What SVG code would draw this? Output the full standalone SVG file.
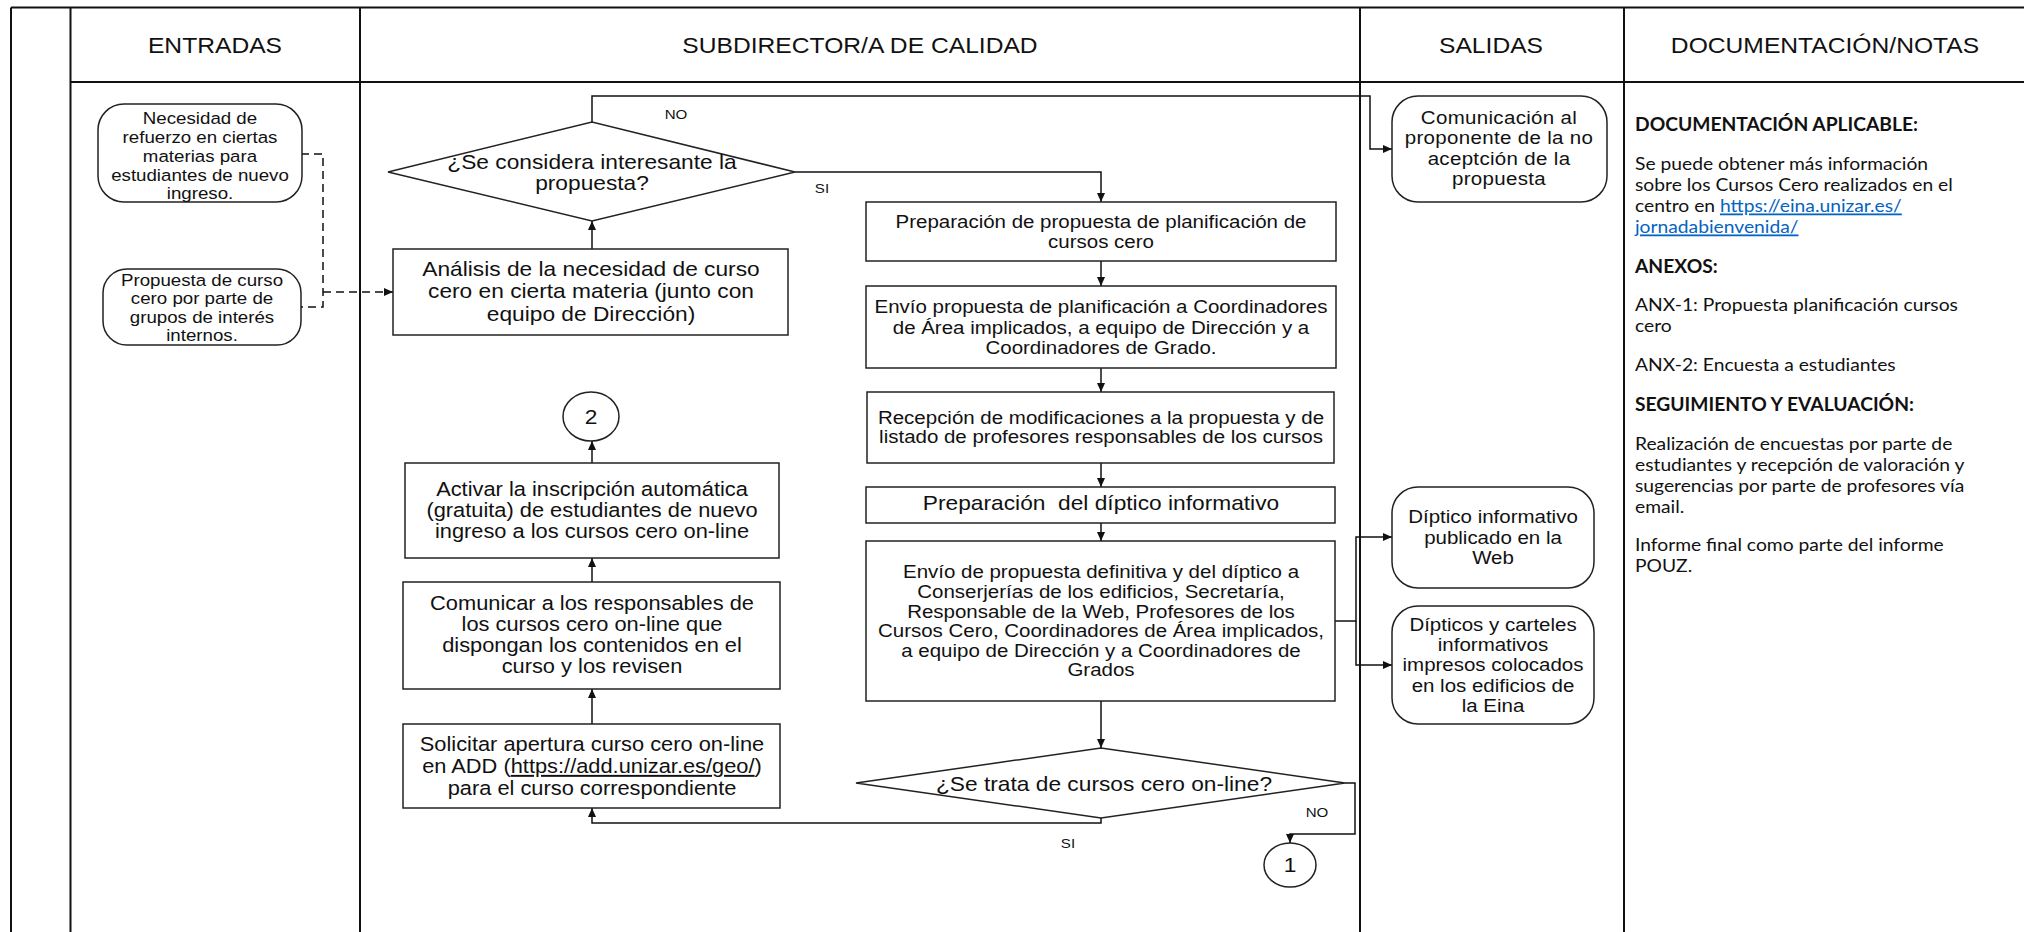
<svg xmlns="http://www.w3.org/2000/svg" width="2024" height="932" viewBox="0 0 2024 932">
<defs>
<style>
.tbl{stroke:#111;stroke-width:2;fill:none}
.box{fill:#fff;stroke:#222;stroke-width:1.5}
.con{fill:none;stroke:#111;stroke-width:1.5}
.dash{stroke-dasharray:8,5}
text{font-family:"Liberation Sans",Arial,sans-serif;fill:#111;text-anchor:middle}
.hdr{font-size:22px}
.t16{font-size:16.7px}
.t18{font-size:18.3px}
.t19{font-size:19.5px}
.t20{font-size:20.3px}
.lbl{font-size:13.5px}
.note{font-family:Lato,"Open Sans",sans-serif;font-size:18px;text-anchor:start}
.nb{font-weight:bold}
.lnk{fill:#0563C1;text-decoration:underline}
.pre{white-space:pre}
</style>
<marker id="arr" markerWidth="9" markerHeight="8" refX="9" refY="4" orient="auto" markerUnits="userSpaceOnUse">
<path d="M0,0 L9,4 L0,8 z" fill="#111"/>
</marker>
</defs>
<rect width="2024" height="932" fill="#fff"/>

<g id="table">
<path class="tbl" d="M11,7.5 H2024 M11,7.5 V932 M70.5,7.5 V932 M360,7.5 V932 M1360,7.5 V932 M1624,7.5 V932 M70.5,82 H2024"/>
<text class="hdr" transform="translate(215 0) scale(1.12 1)" x="0" y="53">ENTRADAS</text>
<text class="hdr" transform="translate(860 0) scale(1.12 1)" x="0" y="53">SUBDIRECTOR/A DE CALIDAD</text>
<text class="hdr" transform="translate(1491 0) scale(1.12 1)" x="0" y="53">SALIDAS</text>
<text class="hdr" transform="translate(1825 0) scale(1.12 1)" x="0" y="53">DOCUMENTACIÓN/NOTAS</text>
</g>

<g id="connectors">
<path class="con dash" d="M301,154 H323 V307 H301"/>
<path class="con dash" d="M323,292 H393" marker-end="url(#arr)"/>
<path class="con" d="M592,249 V221" marker-end="url(#arr)"/>
<path class="con" d="M592,122 V96 H1370 V149 H1392" marker-end="url(#arr)"/>
<path class="con" d="M795,172 H1101 V202" marker-end="url(#arr)"/>
<path class="con" d="M1101,261 V286" marker-end="url(#arr)"/>
<path class="con" d="M1101,368 V392" marker-end="url(#arr)"/>
<path class="con" d="M1101,463 V487" marker-end="url(#arr)"/>
<path class="con" d="M1101,523 V541" marker-end="url(#arr)"/>
<path class="con" d="M1101,701 V748" marker-end="url(#arr)"/>
<path class="con" d="M1335,621 H1356 V537 H1392" marker-end="url(#arr)"/>
<path class="con" d="M1356,621 V665 H1392" marker-end="url(#arr)"/>
<path class="con" d="M1345,783 H1355 V834 H1290 V843" marker-end="url(#arr)"/>
<path class="con" d="M1101,818 V823 H592 V808" marker-end="url(#arr)"/>
<path class="con" d="M592,724 V689" marker-end="url(#arr)"/>
<path class="con" d="M592,582 V558" marker-end="url(#arr)"/>
<path class="con" d="M592,463 V441" marker-end="url(#arr)"/>
<text class="lbl" transform="translate(676 0) scale(1.12 1)" x="0" y="119">NO</text>
<text class="lbl" transform="translate(822 0) scale(1.12 1)" x="0" y="193">SI</text>
<text class="lbl" transform="translate(1317 0) scale(1.12 1)" x="0" y="817">NO</text>
<text class="lbl" transform="translate(1068 0) scale(1.12 1)" x="0" y="848">SI</text>
</g>

<g id="in1">
<rect class="box" x="98" y="104" width="204" height="98" rx="26"/>
<text class="t16" transform="translate(200 0) scale(1.12 1)"><tspan x="0" y="124.5">Necesidad de</tspan><tspan x="0" y="143.2">refuerzo en ciertas</tspan><tspan x="0" y="161.9">materias para</tspan><tspan x="0" y="180.6">estudiantes de nuevo</tspan><tspan x="0" y="199.3">ingreso.</tspan></text>
</g>

<g id="in2">
<rect class="box" x="103" y="269" width="198" height="76" rx="24"/>
<text class="t16" transform="translate(202 0) scale(1.12 1)"><tspan x="0" y="286">Propuesta de curso</tspan><tspan x="0" y="304.5">cero por parte de</tspan><tspan x="0" y="323">grupos de interés</tspan><tspan x="0" y="341">internos.</tspan></text>
</g>

<g id="analisis">
<rect class="box" x="393" y="249" width="395" height="86"/>
<text class="t20" transform="translate(591 0) scale(1.12 1)"><tspan x="0" y="276">Análisis de la necesidad de curso</tspan><tspan x="0" y="298.5">cero en cierta materia (junto con</tspan><tspan x="0" y="321">equipo de Dirección)</tspan></text>
</g>

<g id="decision1">
<polygon class="box" points="388,172 592,122 795,172 592,221"/>
<text class="t20" transform="translate(592 0) scale(1.12 1)"><tspan x="0" y="169">¿Se considera interesante la</tspan><tspan x="0" y="190">propuesta?</tspan></text>
</g>

<g id="prep-plan">
<rect class="box" x="866" y="202" width="470" height="59"/>
<text class="t18" transform="translate(1101 0) scale(1.12 1)"><tspan x="0" y="228.5">Preparación de propuesta de planificación de</tspan><tspan x="0" y="248.5">cursos cero</tspan></text>
</g>

<g id="envio-plan">
<rect class="box" x="866" y="286" width="470" height="82"/>
<text class="t18" transform="translate(1101 0) scale(1.12 1)"><tspan x="0" y="313.5">Envío propuesta de planificación a Coordinadores</tspan><tspan x="0" y="334">de Área implicados, a equipo de Dirección y a</tspan><tspan x="0" y="354.5">Coordinadores de Grado.</tspan></text>
</g>

<g id="recepcion">
<rect class="box" x="867" y="392" width="467" height="71"/>
<text class="t18" transform="translate(1101 0) scale(1.12 1)"><tspan x="0" y="424.5">Recepción de modificaciones a la propuesta y de</tspan><tspan x="0" y="443.5">listado de profesores responsables de los cursos</tspan></text>
</g>

<g id="prep-diptico">
<rect class="box" x="866" y="487" width="469" height="36"/>
<text class="t20 pre" xml:space="preserve" transform="translate(1101 0) scale(1.12 1)" x="0" y="510.5">Preparación  del díptico informativo</text>
</g>

<g id="envio-def">
<rect class="box" x="866" y="541" width="469" height="160"/>
<text class="t18" transform="translate(1101 0) scale(1.12 1)"><tspan x="0" y="578.5">Envío de propuesta definitiva y del díptico a</tspan><tspan x="0" y="598.1">Conserjerías de los edificios, Secretaría,</tspan><tspan x="0" y="617.7">Responsable de la Web, Profesores de los</tspan><tspan x="0" y="637.3">Cursos Cero, Coordinadores de Área implicados,</tspan><tspan x="0" y="656.9">a equipo de Dirección y a Coordinadores de</tspan><tspan x="0" y="676.5">Grados</tspan></text>
</g>

<g id="decision2">
<polygon class="box" points="856,783 1101,748 1345,783 1101,818"/>
<text class="t20" transform="translate(1104 0) scale(1.12 1)" x="0" y="791">¿Se trata de cursos cero on-line?</text>
</g>

<g id="conector1">
<ellipse class="box" cx="1290" cy="865" rx="26" ry="22"/>
<text class="t20" transform="translate(1290 0) scale(1.12 1)" x="0" y="872">1</text>
</g>

<g id="solicitar">
<rect class="box" x="403" y="724" width="377" height="84"/>
<text class="t19" transform="translate(592 0) scale(1.12 1)"><tspan x="0" y="751">Solicitar apertura curso cero on-line</tspan><tspan x="0" y="773">en ADD (<tspan text-decoration="underline">https://add.unizar.es/geo/</tspan>)</tspan><tspan x="0" y="795">para el curso correspondiente</tspan></text>
</g>

<g id="comunicar">
<rect class="box" x="403" y="582" width="377" height="107"/>
<text class="t19" transform="translate(592 0) scale(1.12 1)"><tspan x="0" y="610">Comunicar a los responsables de</tspan><tspan x="0" y="631">los cursos cero on-line que</tspan><tspan x="0" y="652">dispongan los contenidos en el</tspan><tspan x="0" y="673">curso y los revisen</tspan></text>
</g>

<g id="activar">
<rect class="box" x="405" y="463" width="374" height="95"/>
<text class="t19" transform="translate(592 0) scale(1.12 1)"><tspan x="0" y="496">Activar la inscripción automática</tspan><tspan x="0" y="517">(gratuita) de estudiantes de nuevo</tspan><tspan x="0" y="538">ingreso a los cursos cero on-line</tspan></text>
</g>

<g id="conector2">
<ellipse class="box" cx="591" cy="416.5" rx="28" ry="24.5"/>
<text class="t20" transform="translate(591 0) scale(1.12 1)" x="0" y="424">2</text>
</g>

<g id="out-comunicacion">
<rect class="box" x="1392" y="96" width="215" height="106" rx="26"/>
<text class="t18" transform="translate(1499 0) scale(1.12 1)" letter-spacing="0.3"><tspan x="0" y="124">Comunicación al</tspan><tspan x="0" y="144.5">proponente de la no</tspan><tspan x="0" y="165">aceptción de la</tspan><tspan x="0" y="185.5">propuesta</tspan></text>
</g>

<g id="out-diptico">
<rect class="box" x="1392" y="487" width="202" height="101" rx="26"/>
<text class="t18" transform="translate(1493 0) scale(1.12 1)"><tspan x="0" y="523.5">Díptico informativo</tspan><tspan x="0" y="544">publicado en la</tspan><tspan x="0" y="564.5">Web</tspan></text>
</g>

<g id="out-carteles">
<rect class="box" x="1392" y="606" width="202" height="118" rx="26"/>
<text class="t18" transform="translate(1493 0) scale(1.12 1)"><tspan x="0" y="631.5">Dípticos y carteles</tspan><tspan x="0" y="651.5">informativos</tspan><tspan x="0" y="671.5">impresos colocados</tspan><tspan x="0" y="692">en los edificios de</tspan><tspan x="0" y="712">la Eina</tspan></text>
</g>

<g id="notas">
<text class="note" transform="translate(1635 0) scale(1.07 1)"><tspan class="nb" x="0" y="131">DOCUMENTACIÓN APLICABLE:</tspan><tspan x="0" y="170.5">Se puede obtener más información</tspan><tspan x="0" y="191.5">sobre los Cursos Cero realizados en el</tspan><tspan x="0" y="212.5">centro en <tspan class="lnk">https://eina.unizar.es/</tspan></tspan><tspan class="lnk" x="0" y="233.5">jornadabienvenida/</tspan><tspan class="nb" x="0" y="273">ANEXOS:</tspan><tspan x="0" y="311.5">ANX-1: Propuesta planificación cursos</tspan><tspan x="0" y="332">cero</tspan><tspan x="0" y="371">ANX-2: Encuesta a estudiantes</tspan><tspan class="nb" x="0" y="411">SEGUIMIENTO Y EVALUACIÓN:</tspan><tspan x="0" y="450">Realización de encuestas por parte de</tspan><tspan x="0" y="471">estudiantes y recepción de valoración y</tspan><tspan x="0" y="492">sugerencias por parte de profesores vía</tspan><tspan x="0" y="513">email.</tspan><tspan x="0" y="551">Informe final como parte del informe</tspan><tspan x="0" y="572">POUZ.</tspan></text>
</g>
</svg>
